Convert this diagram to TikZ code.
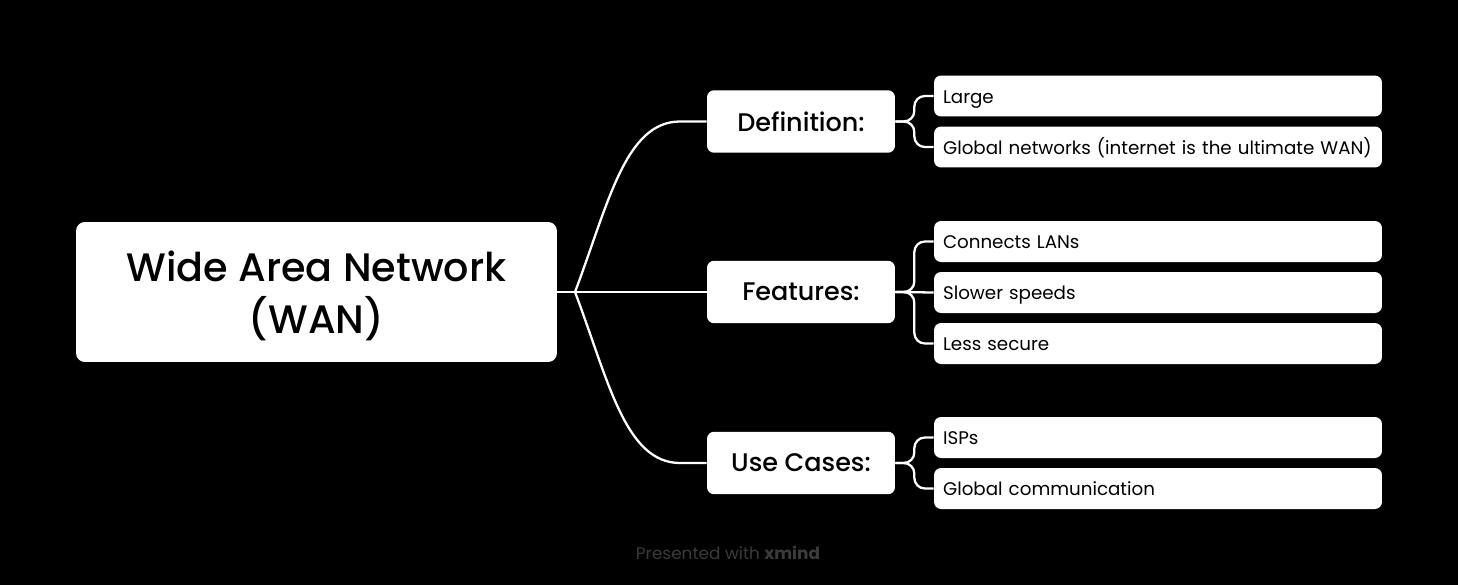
\documentclass[tikz,border=0pt]{standalone}
\usepackage{fontspec}
\setmainfont{Poppins}
\newfontfamily\medfont{Poppins Medium}
\usepackage{tikz}
\usetikzlibrary{positioning}

\begin{document}
\begin{tikzpicture}[
    x=0.02cm, y=-0.02cm,
    every node/.style={text=black},
    link/.style={draw=white, line width=1.3pt},
    rootbox/.style={fill=white, rounded corners=5pt, minimum width=9.62cm, minimum height=2.8cm, text depth=-1pt, align=center, font=\medfont\fontsize{22.6}{29.5}\selectfont},
    topicbox/.style={fill=white, rounded corners=4pt, minimum width=3.76cm, minimum height=1.25cm, font=\medfont\fontsize{14.5}{17}\selectfont},
    leafbox/.style={fill=white, rounded corners=4pt, minimum width=8.96cm, minimum height=0.82cm, text width=8.6cm, text height=1.9ex, text depth=0.4ex, align=left, font=\fontsize{10.4}{12}\selectfont}
]
\fill[black] (0,0) rectangle (1458,585);

\node[rootbox] (wan) at (316.5,292) {Wide Area Network\\(WAN)};

\node[topicbox] (def) at (801,121.5) {Definition:};
\node[topicbox] (feat) at (801,292) {Features:};
\node[topicbox] (use) at (801,463) {Use Cases:};

\node[leafbox] (large) at (1158,96) {Large};
\node[leafbox] (global) at (1158,147) {Global networks (internet is the ultimate WAN)};
\node[leafbox] (lans) at (1158,241.5) {Connects LANs};
\node[leafbox] (slow) at (1158,292.5) {Slower speeds};
\node[leafbox] (secure) at (1158,343.5) {Less secure};
\node[leafbox] (isp) at (1158,437.5) {ISPs};
\node[leafbox] (comm) at (1158,488.5) {Global communication};

% root to topics
\coordinate (split) at (575,292);
\draw[link] (wan.east) -- (split);
\draw[link] (split) .. controls (608,205) and (625,121.5) .. (680,121.5) -- (def.west);
\draw[link] (split) -- (feat.west);
\draw[link] (split) .. controls (608,379) and (625,463) .. (680,463) -- (use.west);

% topics to leaves
\draw[link, rounded corners=6pt] (def.east) -- ++(19,0) |- (large.west);
\draw[link, rounded corners=6pt] (def.east) -- ++(19,0) |- (global.west);
\draw[link, rounded corners=6pt] (feat.east) -- ++(19,0) |- (lans.west);
\draw[link] (feat.east) -- (slow.west);
\draw[link, rounded corners=6pt] (feat.east) -- ++(19,0) |- (secure.west);
\draw[link, rounded corners=6pt] (use.east) -- ++(19,0) |- (isp.west);
\draw[link, rounded corners=6pt] (use.east) -- ++(19,0) |- (comm.west);

\node[text=white!23!black, font=\fontsize{9.6}{11}\selectfont] (credit) at (728,553) {Presented with \textbf{xmind}};
\end{tikzpicture}
\end{document}
